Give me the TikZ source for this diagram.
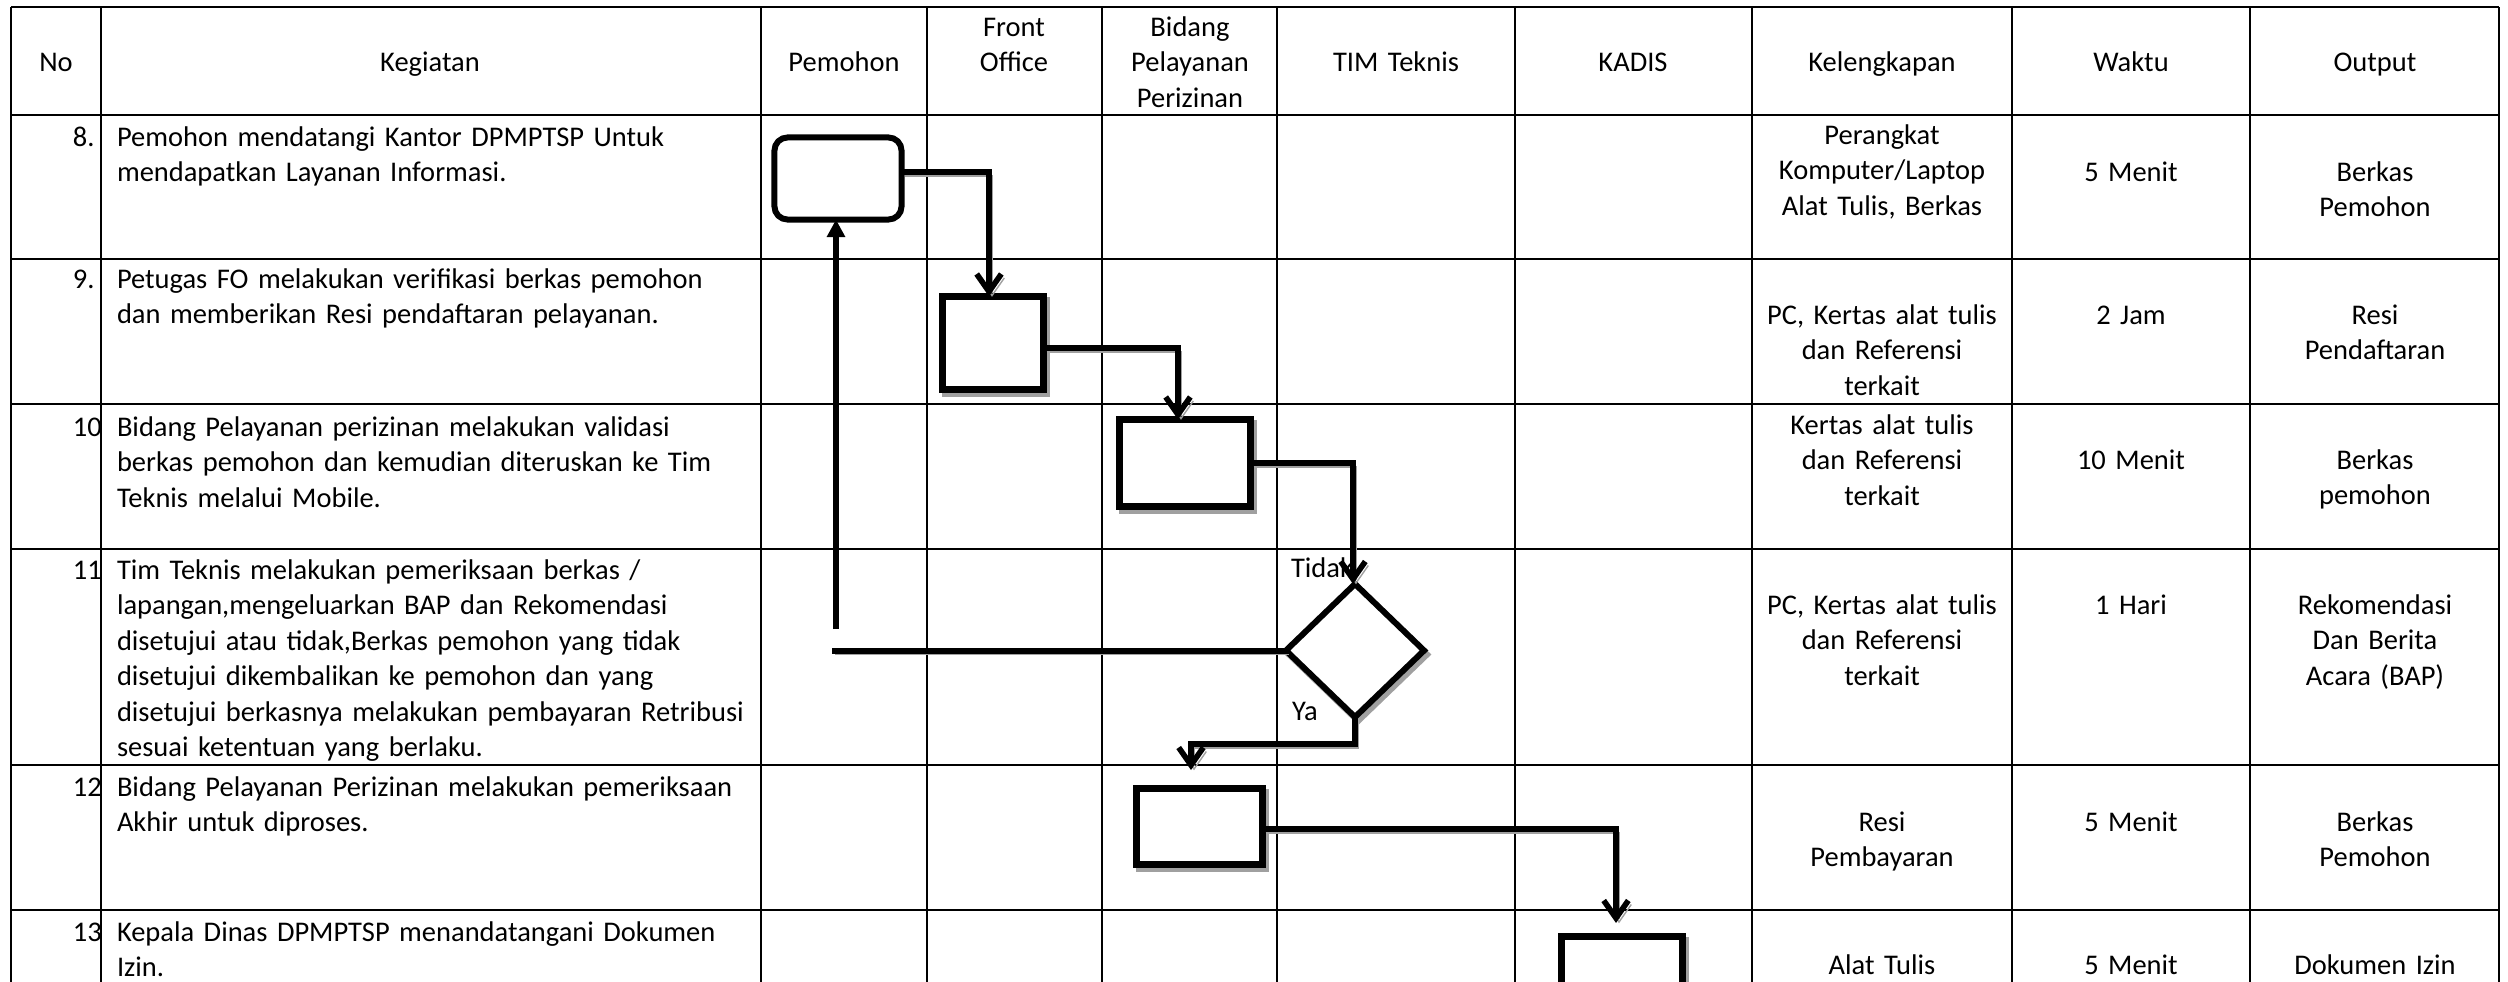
\documentclass[tikz,border=0pt]{standalone}
\usepackage{fontspec}
\setmainfont{Carlito}
\usetikzlibrary{arrows.meta,shapes.geometric}
\definecolor{shadowgray}{HTML}{A0A0A0}
\begin{document}
\begin{tikzpicture}[x=0.01cm,y=-0.01cm,
  every node/.style={font=\fontsize{8.1pt}{10.1pt}\selectfont, inner sep=0pt, outer sep=0pt},
  kg/.style={anchor=base west, text width=215pt, align=left},
  cc/.style={anchor=base, text width=90pt, align=center},
  num/.style={anchor=base west},
  hline/.style={line width=0.75pt},
  vline/.style={line width=0.5pt},
  shd/.style={preaction={draw=shadowgray, transform canvas={xshift=0.03cm,yshift=-0.04cm}}},
  procbox/.style={draw, fill=white, line width=2pt, rectangle},
  conn/.style={line width=1.6pt, -{Straight Barb[length=5pt,width=7pt]}},
  plainline/.style={line width=1.7pt},
]
\useasboundingbox (0,0) rectangle (2508,981);

% ---------- header ----------
\node[cc] (hNo) at (56,71) {No};
\node[cc] (hKeg) at (430,71) {Kegiatan};
\node[cc] (hPem) at (844,71) {Pemohon};
\node[cc] (hFO) at (1014,36) {Front\\Office};
\node[cc] (hBid) at (1190,36) {Bidang\\Pelayanan\\Perizinan};
\node[cc] (hTim) at (1396,71) {TIM Teknis};
\node[cc] (hKad) at (1633,71) {KADIS};
\node[cc] (hKel) at (1882,71) {Kelengkapan};
\node[cc] (hWak) at (2131,71) {Waktu};
\node[cc] (hOut) at (2375,71) {Output};

% ---------- numbers ----------
\node[num] (n8) at (73,146) {8.};
\node[num] (n9) at (73,288) {9.};
\node[num] (n10) at (73,436) {10};
\node[num] (n11) at (73,579) {11};
\node[num] (n12) at (73,796) {12};
\node[num] (n13) at (73,941) {13};

% ---------- kegiatan ----------
\node[kg] (k8) at (117,146) {Pemohon mendatangi Kantor DPMPTSP Untuk\\mendapatkan Layanan Informasi.};
\node[kg] (k9) at (117,288) {Petugas FO melakukan verifikasi berkas pemohon\\dan memberikan Resi pendaftaran pelayanan.};
\node[kg] (k10) at (117,436) {Bidang Pelayanan perizinan melakukan validasi\\berkas pemohon dan kemudian diteruskan ke Tim\\Teknis melalui Mobile.};
\node[kg] (k11) at (117,579) {Tim Teknis melakukan pemeriksaan berkas /\\lapangan,mengeluarkan BAP dan Rekomendasi\\disetujui atau tidak,Berkas pemohon yang tidak\\disetujui dikembalikan ke pemohon dan yang\\disetujui berkasnya melakukan pembayaran Retribusi\\sesuai ketentuan yang berlaku.};
\node[kg] (k12) at (117,796) {Bidang Pelayanan Perizinan melakukan pemeriksaan\\Akhir untuk diproses.};
\node[kg] (k13) at (117,941) {Kepala Dinas DPMPTSP menandatangani Dokumen\\Izin.};

% ---------- kelengkapan ----------
\node[cc] (l8) at (1882,144) {Perangkat\\Komputer/Laptop\\Alat Tulis, Berkas};
\node[cc] (l9) at (1882,324) {PC, Kertas alat tulis\\dan Referensi\\terkait};
\node[cc] (l10) at (1882,434) {Kertas alat tulis\\dan Referensi\\terkait};
\node[cc] (l11) at (1882,614) {PC, Kertas alat tulis\\dan Referensi\\terkait};
\node[cc] (l12) at (1882,831) {Resi\\Pembayaran};
\node[cc] (l13) at (1882,974) {Alat Tulis};

% ---------- waktu ----------
\node[cc] (w8) at (2131,181) {5 Menit};
\node[cc] (w9) at (2131,324) {2 Jam};
\node[cc] (w10) at (2131,469) {10 Menit};
\node[cc] (w11) at (2131,614) {1 Hari};
\node[cc] (w12) at (2131,831) {5 Menit};
\node[cc] (w13) at (2131,974) {5 Menit};

% ---------- output ----------
\node[cc] (o8) at (2375,181) {Berkas\\Pemohon};
\node[cc] (o9) at (2375,324) {Resi\\Pendaftaran};
\node[cc] (o10) at (2375,469) {Berkas\\pemohon};
\node[cc] (o11) at (2375,614) {Rekomendasi\\Dan Berita\\Acara (BAP)};
\node[cc] (o12) at (2375,831) {Berkas\\Pemohon};
\node[cc] (o13) at (2375,974) {Dokumen Izin};

% ---------- table grid ----------
\foreach \x in {11,101,761,927,1102,1277,1515,1752,2012,2250,2499}
  \draw[vline] (\x,7) -- (\x,990);
\foreach \y in {7,115,259,404,549,765,910}
  \draw[hline] (11,\y) -- (2499,\y);

% ---------- flow shapes ----------
\node[draw, fill=white, line width=1.7pt, rounded corners=0.13cm,
      minimum width=1.27cm, minimum height=0.82cm] (p) at (838,178.5) {};
\node[procbox, shd, minimum width=1.01cm, minimum height=0.93cm] (fo) at (993,343) {};
\node[procbox, shd, minimum width=1.31cm, minimum height=0.87cm] (b1) at (1185,463) {};
\node[draw, fill=white, line width=1.7pt, shd, diamond,
      minimum width=1.38cm, minimum height=1.33cm] (d) at (1355,650.5) {};
\node[procbox, shd, minimum width=1.26cm, minimum height=0.76cm] (b2) at (1199.5,826.5) {};
\node[procbox, shd, minimum width=1.21cm, minimum height=1.00cm] (kd) at (1622,986.5) {};

% labels
\node[anchor=base west] (tidak) at (1291,577) {Tidak};
\node[anchor=base west] (ya) at (1292,720) {Ya};

% ---------- connectors ----------
\draw[conn, shd] ([yshift=0.065cm]p.east) -| ([xshift=-0.04cm]fo.north);
\draw[conn, shd] ([yshift=-0.05cm]fo.east) -| ([xshift=-0.07cm]b1.north);
\draw[conn, shd] (b1.east) -| ([xshift=-0.02cm]d.north);
\coordinate (tl) at (832,650.5);
\draw[plainline, shd] (d.west) -- (tl);
\coordinate (up) at (836,629);
\draw[line width=1.5pt, -{Triangle[length=5pt,width=5pt]}] (up) -- (up |- p.south);
\coordinate (yaT) at (1191,744);
\coordinate (yaE) at (1191,770);
\draw[conn, shd] (d.south) |- (yaT) -- (yaE);
\draw[conn, shd, shorten >=0.135cm] ([yshift=-0.025cm]b2.east) -| ([xshift=-0.06cm]kd.north);
\end{tikzpicture}
\end{document}
